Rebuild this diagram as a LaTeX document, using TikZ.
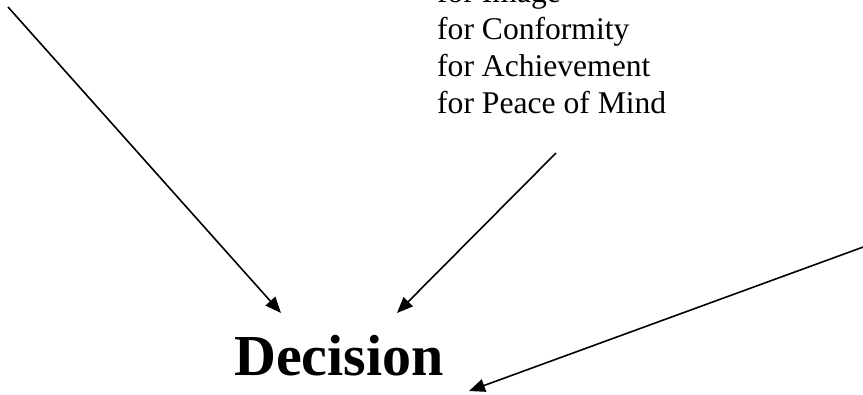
\documentclass[tikz,border=0pt]{standalone}
\usepackage{fontspec}
\setmainfont{Liberation Serif}
\usetikzlibrary{arrows.meta}
\begin{document}
\begin{tikzpicture}[x=1pt,y=-1pt,
  motive/.style={anchor=base west,inner sep=0pt,font=\fontsize{31.6}{37}\selectfont},
  conn/.style={line width=1.6pt,-{Triangle[length=16pt,width=13pt]}}]
\useasboundingbox (0,0) rectangle (863,394);
\node[motive] (m1) at (437,2) {for Image};
\node[motive] (m2) at (437,39) {for Conformity};
\node[motive] (m3) at (437,76) {for Achievement};
\node[motive] (m4) at (437,113) {for Peace of Mind};
\node[anchor=base,inner sep=0pt,font=\fontsize{58}{60}\selectfont\bfseries] (dec) at (339,375) {Decision};
\coordinate (s1) at (8,7);
\coordinate (t1) at (281,313);
\coordinate (s2) at (556,153);
\coordinate (t2) at (397,313);
\coordinate (s3) at (866,246);
\coordinate (t3) at (469,391);
\draw[conn] (s1) -- (t1);
\draw[conn] (s2) -- (t2);
\draw[conn] (s3) -- (t3);
\end{tikzpicture}
\end{document}
